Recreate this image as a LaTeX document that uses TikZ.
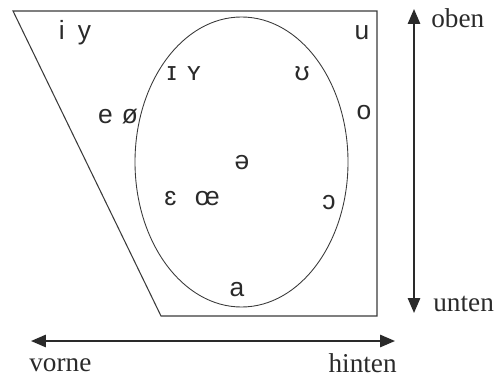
\documentclass[tikz,border=0pt]{standalone}
\usepackage{fontspec}
\setmainfont{Liberation Serif}
\newfontfamily\vowelfont{Liberation Sans}
\usetikzlibrary{arrows.meta}
\definecolor{linecolor}{HTML}{3A3A3A}
\definecolor{inkcolor}{HTML}{2A2A2A}

\begin{document}
\begin{tikzpicture}[
    x=0.02cm, y=-0.02cm,
    >={Triangle[length=8.5pt, width=7pt]},
    vowel/.style={text=inkcolor, font=\vowelfont\fontsize{15}{15}\selectfont, inner sep=0pt},
    axislabel/.style={text=inkcolor, font=\fontsize{15.5}{16}\selectfont, inner sep=0pt},
    axis/.style={<->, draw=inkcolor, line width=1.1pt}
]
    \useasboundingbox (0,0) rectangle (502,378);

    % Vowel trapezium
    \draw[linecolor, line width=0.6pt] (13,11) -- (377,11) -- (377,316) -- (161,316) -- cycle;

    % Ellipse of the lax vowels
    \draw[linecolor, line width=0.5pt] (241.5,162) ellipse [x radius=106.5, y radius=145];

    % Vowels
    \node[vowel] (iy) at (75,33) {i\hspace{0.5em}y};
    \node[vowel] (u) at (362,33) {u};
    \node[vowel] (IY) at (184,74) {ɪ\hspace{0.4em}ʏ};
    \node[vowel] (U) at (302,74) {ʊ};
    \node[vowel] (eoe) at (118,117) {e\hspace{0.35em}ø};
    \node[vowel] (o) at (364,113) {o};
    \node[vowel] (schwa) at (242,163) {ə};
    \node[vowel] (EOE) at (192,199) {ɛ\hspace{0.7em}œ};
    \node[vowel] (O) at (329,203) {ɔ};
    \node[vowel] (a) at (237,290) {a};

    % Height axis
    \coordinate (top) at (414,9);
    \coordinate (bottom) at (414,313);
    \draw[axis] (bottom) -- (top);
    \node[axislabel, anchor=west] (oben) at (431,18) {oben};
    \node[axislabel, anchor=west] (unten) at (433,304) {unten};

    % Front-back axis
    \coordinate (front) at (31,341);
    \coordinate (back) at (395,341);
    \draw[axis] (front) -- (back);
    \node[axislabel, anchor=west] (vorne) at (29,365) {vorne};
    \node[axislabel, anchor=east] (hinten) at (397,363) {hinten};

\end{tikzpicture}
\end{document}
